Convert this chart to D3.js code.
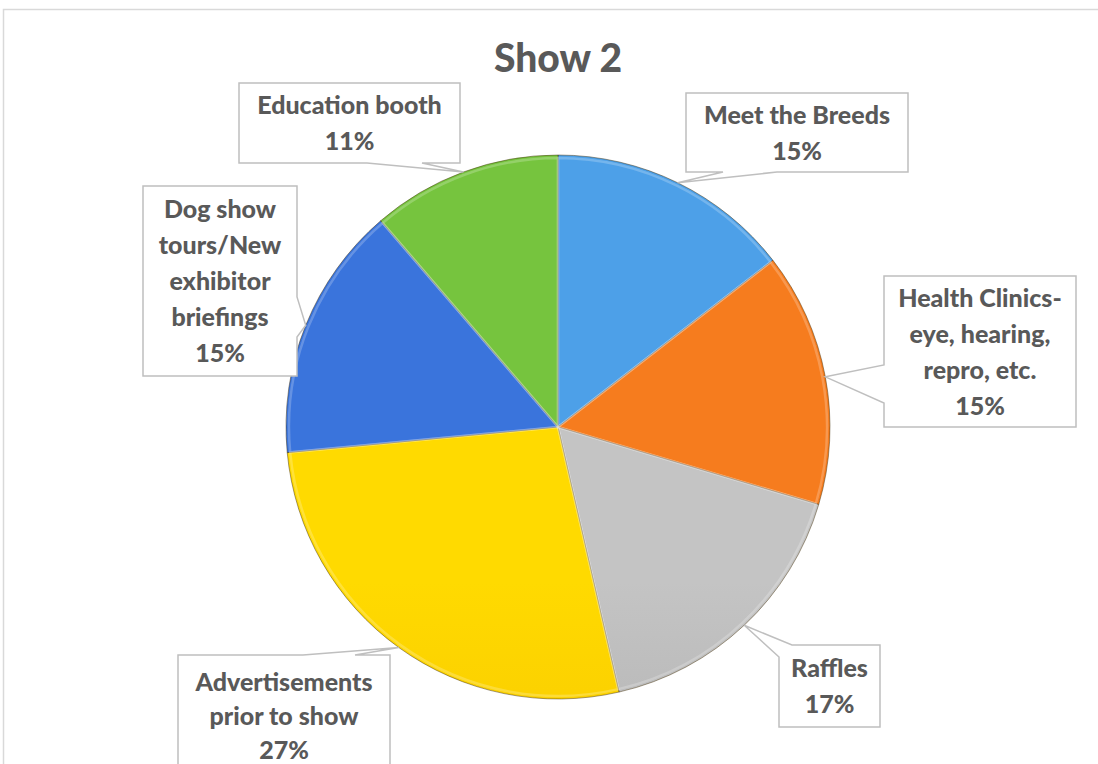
<!DOCTYPE html>
<html><head><meta charset="utf-8">
<script src="https://cdn.jsdelivr.net/npm/d3@7"></script>
<style>
html,body{margin:0;padding:0;background:#fff;}
svg{display:block;}
text{font-family:Lato,"Open Sans",sans-serif;font-weight:900;fill:#595959;}
</style></head>
<body>
<svg id="chart" width="1098" height="764"></svg>
<script>
const title = "Show 2";
const categories = ["Meet the Breeds","Health Clinics-eye, hearing, repro, etc.","Raffles","Advertisements prior to show","Dog show tours/New exhibitor briefings","Education booth"];
const values = [14.5, 15.1, 16.8, 27.1, 15.2, 11.3];
const pctLabels = ["15%","15%","17%","27%","15%","11%"];
const labelLines = [
  ["Meet the Breeds"],
  ["Health Clinics-","eye, hearing,","repro, etc."],
  ["Raffles"],
  ["Advertisements","prior to show"],
  ["Dog show","tours/New","exhibitor","briefings"],
  ["Education booth"]
];
const colorsTop = ["#4da0e8","#f67c1e","#c4c4c4","#ffda00","#3a74dc","#76c43e"];
const colorsBot = ["#3a80c4","#e06812","#9a9a9a","#f0b200","#2c5cbc","#52982a"];

// layout for callout boxes: x, y, w, h, side, base points
const boxes = [
  {x:686,y:93,w:222,h:79,side:"bottom",b:[723,777]},
  {x:884,y:276,w:192,h:151,side:"left",b:[365,403]},
  {x:779,y:645,w:101,h:82,side:"corner",b:[657,792]},
  {x:178,y:655,w:212,h:130,side:"top",b:[303,355]},
  {x:143,y:186,w:154,h:190,side:"right",b:[297,337]},
  {x:239,y:83,w:221,h:80,side:"bottom",b:[367,422]}
];

const svg = d3.select("#chart");
const W = 1098, H = 764;
const cx = 558, cy = 427, R = 272;

svg.append("rect").attr("x",3.5).attr("y",9.5).attr("width",W+10).attr("height",H+10)
  .attr("fill","#fff").attr("stroke","#d9d9d9").attr("stroke-width",1.5);

svg.append("text").attr("x",cx).attr("y",72).attr("text-anchor","middle")
  .style("font-size","39px").text(title);

const defs = svg.append("defs");
categories.forEach((c,i)=>{
  const g = defs.append("linearGradient").attr("id","g"+i)
    .attr("gradientUnits","userSpaceOnUse").attr("x1",0).attr("y1",cy-R).attr("x2",0).attr("y2",cy+R);
  g.append("stop").attr("offset","0%").attr("stop-color",colorsTop[i]);
  g.append("stop").attr("offset","100%").attr("stop-color",colorsBot[i]);
});

const pie = d3.pie().sort(null).value(d=>d);
const arcs = pie(values);
const arc = d3.arc().innerRadius(0).outerRadius(R);
const arcIn = d3.arc().innerRadius(0).outerRadius(R-3);

const pg = svg.append("g").attr("transform",`translate(${cx},${cy})`);
pg.selectAll("path.slice").data(arcs).join("path").attr("class","slice")
  .attr("d",arc).attr("fill",(d,i)=>`url(#g${i})`)
  .attr("stroke","rgba(60,40,0,0.45)").attr("stroke-width",1);
pg.selectAll("path.hl").data(arcs).join("path").attr("class","hl")
  .attr("d",arcIn).attr("fill","none")
  .attr("stroke","rgba(255,255,255,0.22)").attr("stroke-width",2.5);

// callouts
arcs.forEach((a,i)=>{
  const m = (a.startAngle+a.endAngle)/2;
  const tx = cx + R*Math.sin(m), ty = cy - R*Math.cos(m);
  const b = boxes[i];
  const L=b.x, T=b.y, Rr=b.x+b.w, B=b.y+b.h;
  let pts;
  if(b.side==="bottom") pts=[[L,T],[Rr,T],[Rr,B],[b.b[1],B],[tx,ty],[b.b[0],B],[L,B]];
  else if(b.side==="left") pts=[[L,T],[Rr,T],[Rr,B],[L,B],[L,b.b[1]],[tx,ty],[L,b.b[0]]];
  else if(b.side==="right") pts=[[L,T],[Rr,T],[Rr,b.b[0]],[tx,ty],[Rr,b.b[1]],[Rr,B],[L,B]];
  else if(b.side==="top") pts=[[L,T],[b.b[0],T],[tx,ty],[b.b[1],T],[Rr,T],[Rr,B],[L,B]];
  else pts=[[L,b.b[0]],[tx,ty],[b.b[1],T],[Rr,T],[Rr,B],[L,B]];
  svg.append("path").attr("d",d3.line()(pts)+"Z").attr("fill","#fff")
    .attr("stroke","#bfbfbf").attr("stroke-width",1.5);
  const lines = labelLines[i].concat([pctLabels[i]]);
  const lh = 36;
  const mid = T + b.h/2;
  const startC = (i===3) ? T+27 : mid - (lines.length-1)*lh/2;
  const t = svg.append("text").attr("text-anchor","middle").style("font-size","25px");
  lines.forEach((ln,k)=>{
    t.append("tspan").attr("x",L+b.w/2).attr("y",startC + k*(i===3?34:lh) + 9).text(ln);
  });
});
</script>
</body></html>
